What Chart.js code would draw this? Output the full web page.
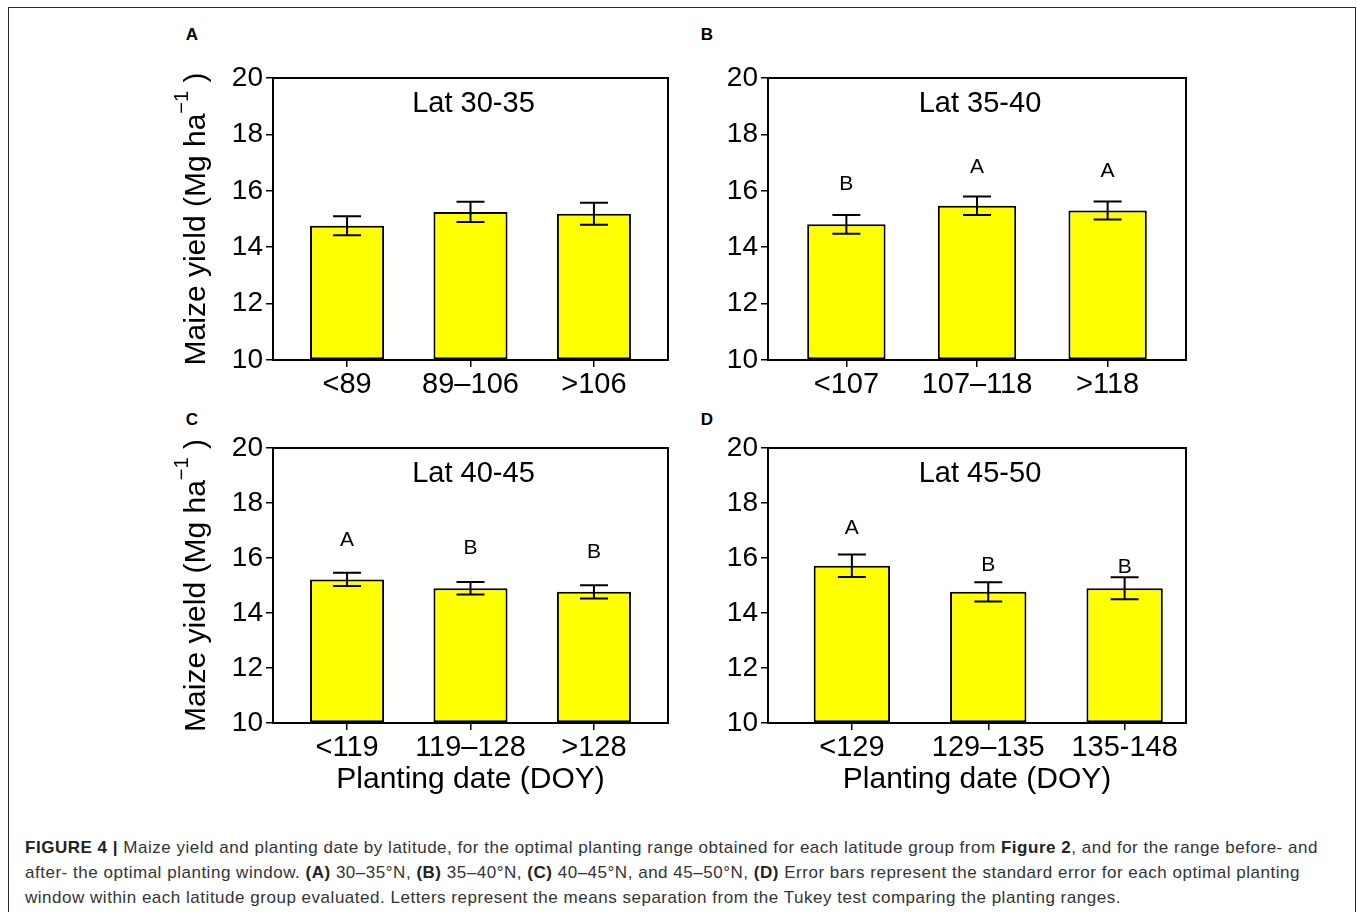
<!DOCTYPE html>
<html>
<head>
<meta charset="utf-8">
<script src="https://cdn.jsdelivr.net/npm/chart.js"></script>
<style>
  html, body { margin: 0; padding: 0; background: #fff; }
  body { width: 1357px; height: 912px; position: relative; overflow: hidden; font-family: "Liberation Sans", Arial, sans-serif; }
  .frame { position: absolute; left: 8px; top: 7px; width: 1346px; height: 960px; border: 1.5px solid #2b2b2b; }
  canvas { position: absolute; }
  .tag { position: absolute; font-weight: bold; font-size: 17px; color: #000; transform: translate(-50%, -50%); }
  .caption { position: absolute; left: 25px; top: 835px; white-space: nowrap; font-size: 17px; letter-spacing: 0.52px; line-height: 25px; color: #333; }
  .caption b { color: #222; }
</style>
</head>
<body>
<div class="frame"></div>

<div class="tag" style="left:192px; top:35px;">A</div>
<div class="tag" style="left:707px; top:35px;">B</div>
<div class="tag" style="left:192px; top:420px;">C</div>
<div class="tag" style="left:707px; top:420px;">D</div>

<canvas id="chart-a" width="530" height="350" style="left:150px; top:50px;"></canvas>
<canvas id="chart-b" width="530" height="350" style="left:680px; top:50px;"></canvas>
<canvas id="chart-c" width="530" height="390" style="left:150px; top:420px;"></canvas>
<canvas id="chart-d" width="530" height="390" style="left:680px; top:420px;"></canvas>

<div class="caption"><b>FIGURE 4 |</b> Maize yield and planting date by latitude, for the optimal planting range obtained for each latitude group from <b>Figure 2</b>, and for the range before- and<br>after- the optimal planting window. <b>(A)</b> 30–35°N, <b>(B)</b> 35–40°N, <b>(C)</b> 40–45°N, and 45–50°N, <b>(D)</b> Error bars represent the standard error for each optimal planting<br>window within each latitude group evaluated. Letters represent the means separation from the Tukey test comparing the planting ranges.</div>

<script>
// Values (Mg ha-1)
const yTicks = [10, 12, 14, 16, 18, 20];

const titleA = 'Lat 30-35';
const catsA = ['<89', '89–106', '>106'];
const yieldA = [14.76, 15.25, 15.19];
const seA = [0.34, 0.36, 0.39];

const titleB = 'Lat 35-40';
const catsB = ['<107', '107–118', '>118'];
const yieldB = [14.81, 15.47, 15.30];
const seB = [0.33, 0.33, 0.32];
const lettersB = ['B', 'A', 'A'];
const letterAtB = [16.24, 16.85, 16.71];

const titleC = 'Lat 40-45';
const catsC = ['<119', '119–128', '>128'];
const yieldC = [15.22, 14.90, 14.77];
const seC = [0.24, 0.23, 0.24];
const lettersC = ['A', 'B', 'B'];
const letterAtC = [16.65, 16.35, 16.22];

const titleD = 'Lat 45-50';
const catsD = ['<129', '129–135', '135-148'];
const yieldD = [15.72, 14.77, 14.90];
const seD = [0.41, 0.35, 0.40];
const lettersD = ['A', 'B', 'B'];
const letterAtD = [17.07, 15.72, 15.68];

const FONT = '"Liberation Sans", Arial, sans-serif';

/**
 * Draws the things Chart.js has no built-in for: error bars, the closed
 * box around the plot, the latitude title, Tukey letters and axis titles.
 */
const panelDecor = {
    id: 'panelDecor',
    afterDatasetsDraw(chart, args, opts) {
        const { ctx, chartArea: area, scales: { x, y } } = chart;
        ctx.save();

        // error bars (mean +/- SE)
        ctx.strokeStyle = '#000';
        ctx.lineWidth = 2;
        opts.values.forEach((v, i) => {
            const px = x.getPixelForValue(i + 1);
            const top = y.getPixelForValue(v + opts.se[i]);
            const bot = y.getPixelForValue(v - opts.se[i]);
            ctx.beginPath();
            ctx.moveTo(px, top); ctx.lineTo(px, bot);
            ctx.moveTo(px - 14, top); ctx.lineTo(px + 14, top);
            ctx.moveTo(px - 14, bot); ctx.lineTo(px + 14, bot);
            ctx.stroke();
        });

        // box around the plot
        ctx.lineWidth = 2;
        ctx.strokeRect(area.left, area.top, area.right - area.left, area.bottom - area.top);

        // latitude title
        ctx.fillStyle = '#000';
        ctx.textAlign = 'center';
        ctx.textBaseline = 'middle';
        ctx.font = '29px ' + FONT;
        ctx.fillText(opts.title, (area.left + area.right) / 2 + 3, area.top + 26);

        // Tukey letters
        if (opts.letters) {
            ctx.font = '21px ' + FONT;
            opts.letters.forEach((t, i) => {
                ctx.fillText(t, x.getPixelForValue(i + 1), y.getPixelForValue(opts.letterAt[i]));
            });
        }

        // x axis title (bottom row only)
        if (opts.xTitle) {
            ctx.font = '30px ' + FONT;
            ctx.fillText('Planting date (DOY)', (area.left + area.right) / 2, area.bottom + 57);
        }

        // y axis title with a raised "-1" (left column only)
        if (opts.yTitle) {
            const cy = (area.top + area.bottom) / 2;
            ctx.translate(area.left - 68, cy);
            ctx.rotate(-Math.PI / 2);
            ctx.textAlign = 'left';
            ctx.textBaseline = 'alphabetic';
            const big = '30px ' + FONT, small = '20px ' + FONT;
            ctx.font = big;
            const w1 = ctx.measureText('Maize yield (Mg ha').width;
            const w3 = ctx.measureText(' )').width;
            ctx.font = small;
            const w2 = ctx.measureText('\u22121').width;
            let sx = -(w1 + w2 + w3) / 2;
            ctx.font = big;
            ctx.fillText('Maize yield (Mg ha', sx, 0);
            sx += w1;
            ctx.font = small;
            ctx.fillText('\u22121', sx, -17);
            sx += w2;
            ctx.font = big;
            ctx.fillText(' )', sx, 0);
        }
        ctx.restore();
    }
};

function makePanel(canvasId, p) {
    const ctx = document.getElementById(canvasId).getContext('2d');
    return new Chart(ctx, {
        type: 'bar',
        data: {
            datasets: [{
                data: p.values.map((v, i) => ({ x: i + 1, y: v })),
                backgroundColor: '#ffff00',
                borderColor: '#000',
                borderWidth: 2,
                borderSkipped: false,
                base: 10,
                categoryPercentage: 1,
                barPercentage: p.barPct
            }]
        },
        options: {
            responsive: false,
            animation: false,
            devicePixelRatio: 1,
            layout: { padding: { top: p.padTop, right: p.padRight, left: 0, bottom: 0 } },
            plugins: {
                legend: { display: false },
                tooltip: { enabled: false },
                panelDecor: p
            },
            scales: {
                x: {
                    type: 'linear',
                    min: p.xMin,
                    max: p.xMax,
                    offset: false,
                    afterBuildTicks: (scale) => { scale.ticks = p.cats.map((c, i) => ({ value: i + 1 })); },
                    afterFit: (scale) => { scale.height = p.xAxisH; },
                    ticks: {
                        callback: (val) => p.cats[val - 1] ?? '',
                        color: '#000',
                        font: { family: FONT, size: 29 },
                        padding: 1,
                        maxRotation: 0,
                        autoSkip: false
                    },
                    grid: { offset: false, drawOnChartArea: false, drawTicks: true, tickLength: 7, color: '#000', lineWidth: 1.5 },
                    border: { display: true, color: '#000', width: 2 }
                },
                y: {
                    min: 10,
                    max: 20,
                    afterBuildTicks: (scale) => { scale.ticks = yTicks.map(v => ({ value: v })); },
                    afterFit: (scale) => { scale.width = p.yAxisW; },
                    ticks: {
                        color: '#000',
                        font: { family: FONT, size: 28 },
                        padding: 3
                    },
                    grid: { drawOnChartArea: false, drawTicks: true, tickLength: 7, color: '#000', lineWidth: 1.5 },
                    border: { display: true, color: '#000', width: 2 }
                }
            }
        },
        plugins: [panelDecor]
    });
}

makePanel('chart-a', {
    title: titleA, cats: catsA, values: yieldA, se: seA,
    xMin: 0.4, xMax: 3.6, barPct: 0.6,
    yAxisW: 123, xAxisH: 40, padTop: 28, padRight: 12, yTitle: true
});
makePanel('chart-b', {
    title: titleB, cats: catsB, values: yieldB, se: seB, letters: lettersB, letterAt: letterAtB,
    xMin: 0.4, xMax: 3.6, barPct: 0.6,
    yAxisW: 88, xAxisH: 40, padTop: 28, padRight: 24
});
makePanel('chart-c', {
    title: titleC, cats: catsC, values: yieldC, se: seC, letters: lettersC, letterAt: letterAtC,
    xMin: 0.4, xMax: 3.6, barPct: 0.6,
    yAxisW: 123, xAxisH: 87, padTop: 28, padRight: 12, yTitle: true, xTitle: true
});
makePanel('chart-d', {
    title: titleD, cats: catsD, values: yieldD, se: seD, letters: lettersD, letterAt: letterAtD,
    xMin: 0.385, xMax: 3.45, barPct: 0.56,
    yAxisW: 88, xAxisH: 87, padTop: 28, padRight: 24, xTitle: true
});
</script>
</body>
</html>
